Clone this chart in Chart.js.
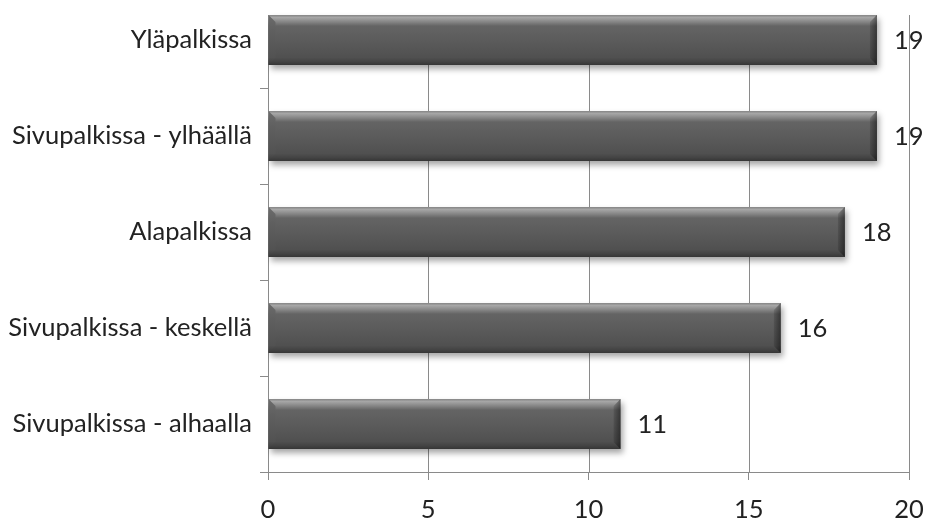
<!DOCTYPE html>
<html>
<head>
<meta charset="utf-8">
<script src="https://cdn.jsdelivr.net/npm/chart.js@4.4.1/dist/chart.umd.min.js"></script>
<style>
  html, body { margin: 0; padding: 0; background: #ffffff; overflow: hidden; width: 927px; height: 518px; }
  #wrap { position: absolute; left: 0; top: -8px; width: 927px; height: 540px; }
</style>
</head>
<body>
<div id="wrap"><canvas id="chart"></canvas></div>
<script>
// Sijainnit ja vastausmäärät
const categories = [
  'Yläpalkissa',
  'Sivupalkissa - ylhäällä',
  'Alapalkissa',
  'Sivupalkissa - keskellä',
  'Sivupalkissa - alhaalla'
];
const counts = [19, 19, 18, 16, 11];
const xTicks = [0, 5, 10, 15, 20];

const FONT = 'Lato, "Noto Sans", sans-serif';
const FONT_SIZE = 25.5;
const GRID = '#8a8a8a';
const TEXT = '#222222';

const barGeom = b => ({
  x0: b.base, x1: b.x,
  y0: b.y - b.height / 2, y1: b.y + b.height / 2
});

const barPlugin = {
  id: 'bevelBars',
  beforeDatasetsDraw(chart) {
    const { ctx, chartArea, scales } = chart;
    const bars = chart.getDatasetMeta(0).data;
    // vertical gridlines start at the top of the first bar
    const top = Math.min(...bars.map(b => barGeom(b).y0));
    ctx.save();
    ctx.strokeStyle = GRID;
    ctx.lineWidth = 1;
    xTicks.forEach(v => {
      const x = Math.round(scales.x.getPixelForValue(v)) + 0.5;
      ctx.beginPath();
      ctx.moveTo(x, top);
      ctx.lineTo(x, chartArea.bottom);
      ctx.stroke();
    });
    ctx.restore();

    // each bar gets its own vertical gradient
    bars.forEach(b => {
      const { y0, y1 } = barGeom(b);
      const g = ctx.createLinearGradient(0, y0, 0, y1);
      g.addColorStop(0, '#858585');
      g.addColorStop(0.05, '#a6a6a6');
      g.addColorStop(0.12, '#8c8c8c');
      g.addColorStop(0.22, '#646464');
      g.addColorStop(0.55, '#5a5a5a');
      g.addColorStop(0.85, '#505050');
      g.addColorStop(0.93, '#444444');
      g.addColorStop(1, '#363636');
      b.options = Object.assign({}, b.options, { backgroundColor: g });
    });
  },
  beforeDatasetDraw(chart) {
    const ctx = chart.ctx;
    ctx.save();
    ctx.shadowColor = 'rgba(0,0,0,0.35)';
    ctx.shadowBlur = 6;
    ctx.shadowOffsetX = 2;
    ctx.shadowOffsetY = 4;
  },
  afterDatasetDraw(chart) {
    chart.ctx.restore();
  },
  afterDatasetsDraw(chart) {
    const { ctx } = chart;
    const bars = chart.getDatasetMeta(0).data;
    const bev = 7;
    bars.forEach((b, i) => {
      const { x0, x1, y0, y1 } = barGeom(b);
      ctx.save();
      // left bevel
      const gl = ctx.createLinearGradient(0, y0, 0, y1);
      gl.addColorStop(0, '#6c6c6c');
      gl.addColorStop(0.3, '#606060');
      gl.addColorStop(0.85, '#525252');
      gl.addColorStop(1, '#3a3a3a');
      ctx.fillStyle = gl;
      ctx.beginPath();
      ctx.moveTo(x0, y0);
      ctx.lineTo(x0 + bev, y0 + bev);
      ctx.lineTo(x0 + bev, y1 - bev);
      ctx.lineTo(x0, y1);
      ctx.closePath();
      ctx.fill();
      // right bevel
      const gr = ctx.createLinearGradient(x1 - bev, 0, x1, 0);
      gr.addColorStop(0, 'rgba(0,0,0,0.12)');
      gr.addColorStop(1, 'rgba(0,0,0,0.45)');
      ctx.fillStyle = gr;
      ctx.beginPath();
      ctx.moveTo(x1, y0);
      ctx.lineTo(x1, y1);
      ctx.lineTo(x1 - bev, y1 - bev);
      ctx.lineTo(x1 - bev, y0 + bev);
      ctx.closePath();
      ctx.fill();
      ctx.restore();

      // value label
      ctx.save();
      ctx.font = FONT_SIZE + 'px ' + FONT;
      ctx.fillStyle = TEXT;
      ctx.textAlign = 'left';
      ctx.textBaseline = 'middle';
      ctx.fillText(String(counts[i]), x1 + 17, b.y + 1);
      ctx.restore();
    });
  }
};

new Chart(document.getElementById('chart'), {
  type: 'bar',
  data: {
    labels: categories,
    datasets: [{
      data: counts,
      backgroundColor: '#5a5a5a',
      borderWidth: 0,
      barPercentage: 0.52,
      categoryPercentage: 1.0
    }]
  },
  plugins: [barPlugin],
  options: {
    indexAxis: 'y',
    responsive: true,
    maintainAspectRatio: false,
    animation: false,
    events: [],
    layout: { padding: { left: 0, right: 18, top: 0, bottom: 0 } },
    plugins: { legend: { display: false }, tooltip: { enabled: false } },
    scales: {
      x: {
        min: 0,
        max: 20,
        afterBuildTicks: s => { s.ticks = xTicks.map(v => ({ value: v })); },
        afterFit: s => { s.height = 60; s.paddingLeft = 0; s.paddingRight = 0; },
        grid: { drawOnChartArea: false, drawTicks: true, tickLength: 8, color: GRID },
        border: { display: true, color: GRID, width: 1 },
        ticks: { color: TEXT, font: { family: FONT, size: FONT_SIZE }, padding: 14 }
      },
      y: {
        afterFit: s => { s.width = 268; s.paddingTop = 0; s.paddingBottom = 0; },
        grid: { drawOnChartArea: false, drawTicks: true, tickLength: 8, color: GRID, offset: true },
        border: { display: false },
        ticks: { color: TEXT, font: { family: FONT, size: FONT_SIZE }, padding: 8 }
      }
    }
  }
});
</script>
</body>
</html>
